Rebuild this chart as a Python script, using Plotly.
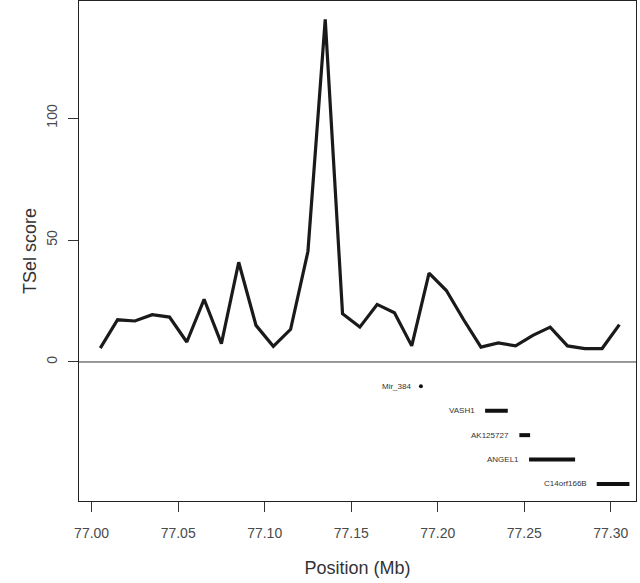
import plotly.graph_objects as go

# TSel score profile
positions = [77.005 + 0.01 * i for i in range(31)]
scores = [5.7, 17.3, 16.8, 19.4, 18.4, 8.2, 25.7, 7.5, 40.9, 15.0,
          6.4, 13.4, 45.3, 140.5, 19.8, 14.3, 23.6, 20.2, 6.6, 36.4,
          29.3, 17.3, 6.1, 7.8, 6.6, 10.9, 14.3, 6.6, 5.5, 5.5, 15.3]

# Gene annotations
gene_names = ["Mir_384", "VASH1", "AK125727", "ANGEL1", "C14orf166B"]
gene_starts = [77.1903, 77.2274, 77.2472, 77.2528, 77.2919]
gene_ends = [77.1903, 77.2405, 77.2534, 77.2794, 77.3108]
gene_rows = [-10, -20, -30, -40, -50]

x_ticks = [77.00, 77.05, 77.10, 77.15, 77.20, 77.25, 77.30]
x_tick_labels = ["77.00", "77.05", "77.10", "77.15", "77.20", "77.25", "77.30"]
y_ticks = [0, 50, 100]

X_RANGE = [76.9927, 77.3146]

fig = go.Figure()

# zero line
fig.add_trace(go.Scatter(x=X_RANGE, y=[0, 0], mode="lines",
                         line=dict(color="#333333", width=1), hoverinfo="skip",
                         showlegend=False))

fig.add_trace(go.Scatter(x=positions, y=scores, mode="lines",
                         line=dict(color="#1a1a1a", width=3.2), showlegend=False))

for name, s, e, r in zip(gene_names, gene_starts, gene_ends, gene_rows):
    if s == e:
        fig.add_trace(go.Scatter(x=[s], y=[r], mode="markers",
                                 marker=dict(color="#111111", size=4),
                                 showlegend=False))
    else:
        fig.add_trace(go.Scatter(x=[s, e], y=[r, r], mode="lines",
                                 line=dict(color="#111111", width=4),
                                 showlegend=False))
    fig.add_annotation(x=s, y=r, text=name, showarrow=False, xanchor="right",
                       xshift=-8, font=dict(size=8, color="#333333",
                                            family="Liberation Sans, Arial"))

fig.update_layout(
    width=640, height=583,
    margin=dict(l=79, r=4, t=1, b=82),
    paper_bgcolor="white", plot_bgcolor="white",
    font=dict(family="Liberation Sans, Arial", color="#444444"),
    xaxis=dict(range=X_RANGE, tickvals=x_ticks, ticktext=x_tick_labels,
               automargin=False,
               ticks="outside", ticklen=10, tickcolor="#333333",
               ticklabelstandoff=9,
               showline=True, linecolor="#222222", linewidth=1, mirror=True,
               showgrid=False, zeroline=False,
               tickfont=dict(size=14, color="#4a4a4a"),
               title=dict(text="Position (Mb)", font=dict(size=18, color="#333333"),
                          standoff=21)),
    yaxis=dict(range=[-57.0, 148.0], tickvals=y_ticks,
               automargin=False,
               ticks="outside", ticklen=10, tickcolor="#333333", tickangle=-90,
               ticklabelstandoff=5,
               showline=True, linecolor="#222222", linewidth=1, mirror=True,
               showgrid=False, zeroline=False,
               tickfont=dict(size=14, color="#4a4a4a"),
               title=dict(text="TSel score", font=dict(size=18, color="#333333"),
                          standoff=3)),
)

fig.write_html("out.html", config={"displayModeBar": False})

# remove the browser's default page margin so the figure sits at the top-left
with open("out.html", "r", encoding="utf-8") as f:
    html = f.read()
html = html.replace("<head>", "<head><style>html,body{margin:0;padding:0;}</style>", 1)
with open("out.html", "w", encoding="utf-8") as f:
    f.write(html)
